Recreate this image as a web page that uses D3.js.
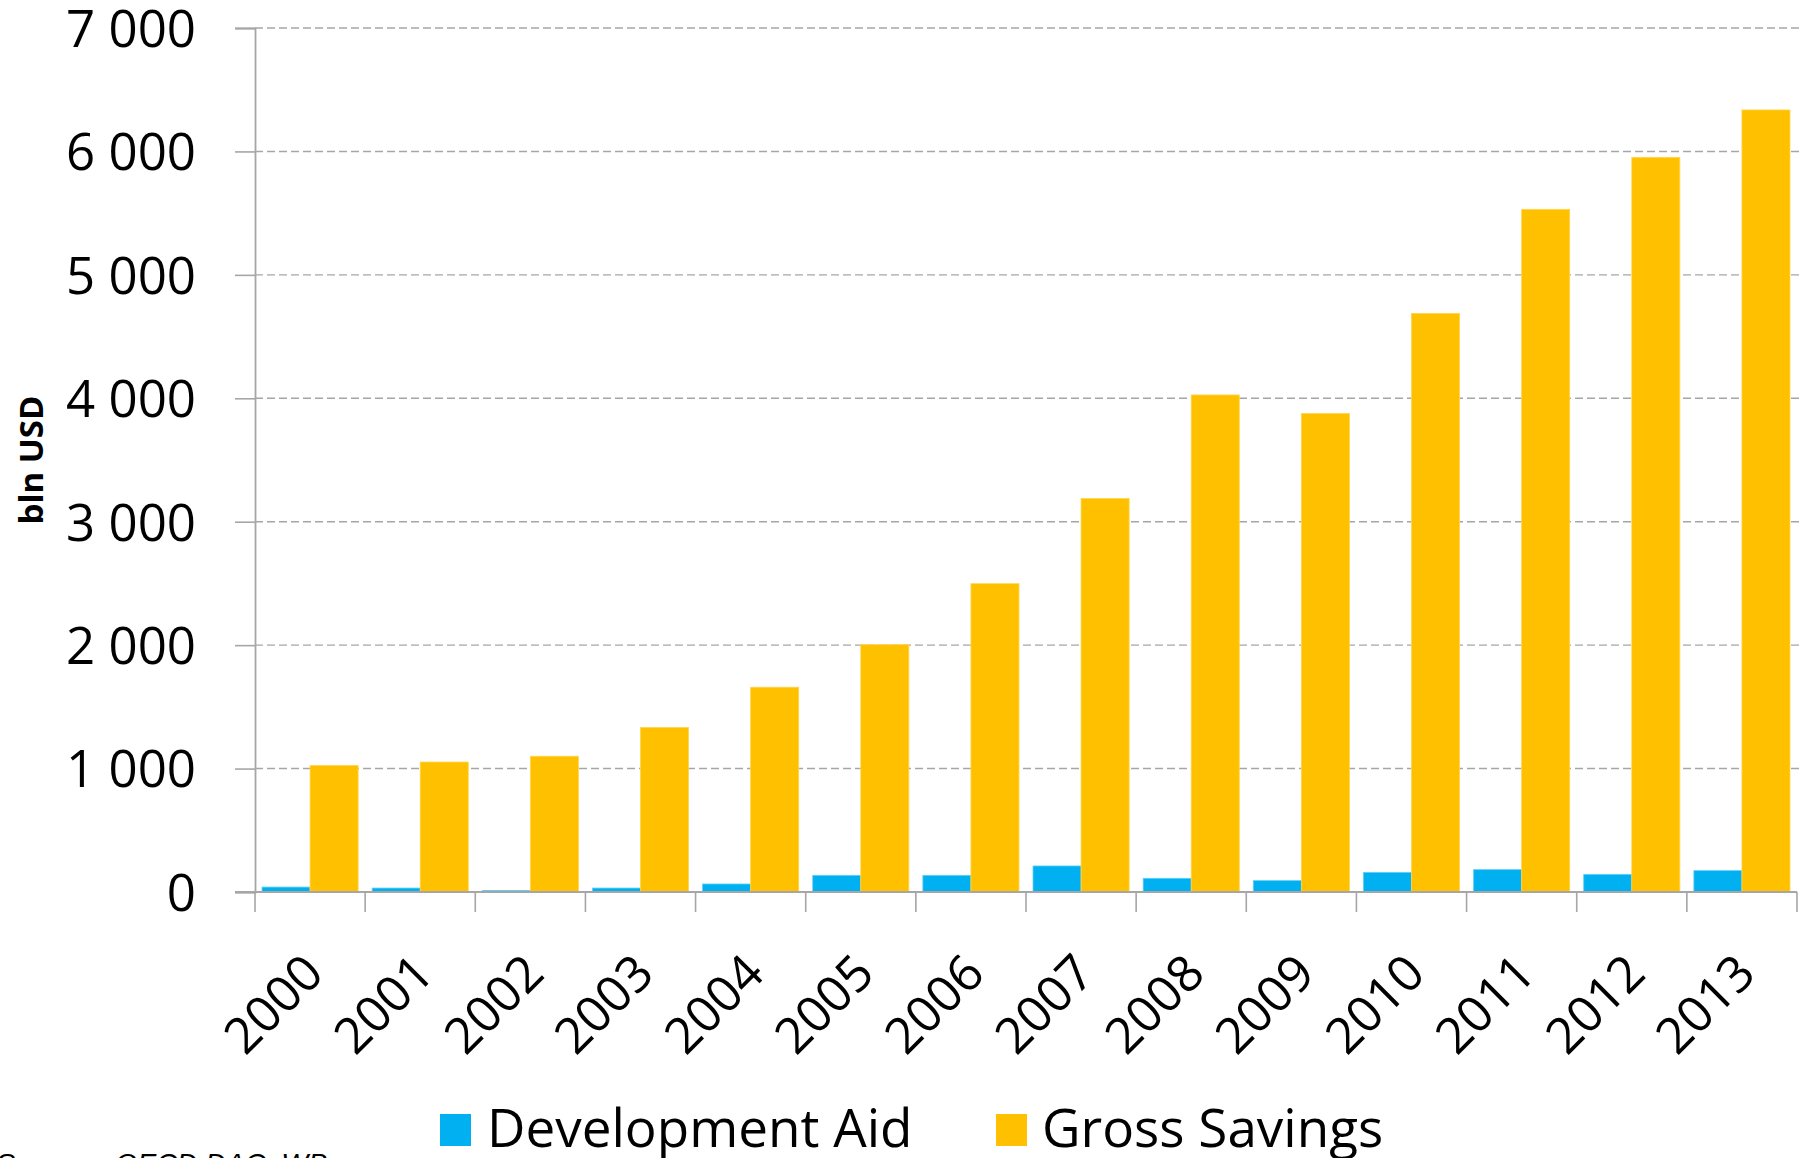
<!DOCTYPE html>
<html>
<head>
<meta charset="utf-8">
<script src="https://cdn.jsdelivr.net/npm/d3@7"></script>
<style>
  html, body { margin: 0; padding: 0; background: #ffffff; }
  svg { display: block; }
</style>
</head>
<body>
<svg id="chart" width="1805" height="1158"></svg>
<script>
// Development aid vs. gross savings, bln USD
const years = ["2000","2001","2002","2003","2004","2005","2006","2007","2008","2009","2010","2011","2012","2013"];
const seriesNames = ["Development Aid", "Gross Savings"];
const developmentAid = [40, 32, 13, 32, 65, 135, 135, 211, 111, 92, 159, 181, 143, 173];
const grossSavings = [1025, 1053, 1100, 1333, 1659, 2004, 2498, 3188, 4027, 3877, 4688, 5531, 5952, 6336];
const yTicks = [0, 1000, 2000, 3000, 4000, 5000, 6000, 7000];
const yTitle = "bln USD";
const sourceLabel = "Source:";
const sourceText = "OECD DAC, WB";

const colors = { "Development Aid": "#00b0f0", "Gross Savings": "#ffc000" };
const strokes = { "Development Aid": "#5fd0f7", "Gross Savings": "#ffd54d" };
const FONT = "'Open Sans', Lato, sans-serif";

const rows = years.map((yr, i) => ({
  year: yr,
  values: [
    { key: seriesNames[0], value: developmentAid[i] },
    { key: seriesNames[1], value: grossSavings[i] }
  ]
}));

const svg = d3.select("#chart");
const plotLeft = 255, plotRight = 1797, plotTop = 28, plotBottom = 892;

const x = d3.scaleBand().domain(years).range([plotLeft, plotRight]).padding(0);
const x1 = d3.scaleBand().domain(seriesNames).range([0, x.bandwidth()])
  .paddingInner(0).paddingOuter(0.146);
const y = d3.scaleLinear().domain([0, 7000]).range([plotBottom, plotTop]);

// dashed horizontal gridlines
svg.append("g")
  .selectAll("line")
  .data(yTicks.filter(d => d > 0))
  .join("line")
  .attr("x1", plotLeft).attr("x2", plotRight + 4)
  .attr("y1", d => y(d)).attr("y2", d => y(d))
  .attr("stroke", "#a6a6a6")
  .attr("stroke-width", 1.4)
  .attr("stroke-dasharray", "8,4");

// y axis with outside ticks
const yAxis = svg.append("g")
  .attr("transform", `translate(${plotLeft},0)`)
  .call(d3.axisLeft(y).tickValues(yTicks).tickSize(20).tickPadding(39)
    .tickFormat(d => d3.format(",")(d).replace(/,/g, " ")));
yAxis.select(".domain").attr("stroke", "#a6a6a6").attr("stroke-width", 1.8);
yAxis.selectAll(".tick line").attr("stroke", "#a6a6a6").attr("stroke-width", 1.6);
yAxis.selectAll(".tick text")
  .attr("font-family", FONT)
  .attr("font-size", 51)
  .attr("dy", "0.36em")
  .attr("fill", "#000");

// bars
const groups = svg.append("g")
  .selectAll("g")
  .data(rows)
  .join("g")
  .attr("transform", d => `translate(${x(d.year)},0)`);

groups.selectAll("rect")
  .data(d => d.values)
  .join("rect")
  .attr("x", d => x1(d.key))
  .attr("width", x1.bandwidth())
  .attr("y", d => y(d.value))
  .attr("height", d => y(0) - y(d.value))
  .attr("fill", d => colors[d.key])
  .attr("stroke", d => strokes[d.key])
  .attr("stroke-width", 0.8);

// x axis: category boundaries as ticks
const xAxis = svg.append("g").attr("transform", `translate(0,${plotBottom})`);
xAxis.append("line")
  .attr("x1", plotLeft - 20).attr("x2", plotRight)
  .attr("y1", 0).attr("y2", 0)
  .attr("stroke", "#a6a6a6").attr("stroke-width", 1.8);
const bounds = years.map(d => x(d)).concat([plotRight]);
xAxis.selectAll("line.bound")
  .data(bounds)
  .join("line")
  .attr("class", "bound")
  .attr("x1", d => d).attr("x2", d => d)
  .attr("y1", 0).attr("y2", 20)
  .attr("stroke", "#a6a6a6").attr("stroke-width", 1.6);

// rotated year labels
svg.append("g")
  .selectAll("text")
  .data(years)
  .join("text")
  .attr("transform", d => `translate(${x(d) + x.bandwidth() / 2 + 16},${plotBottom + 84}) rotate(-45)`)
  .attr("text-anchor", "end")
  .attr("font-family", FONT)
  .attr("font-size", 50)
  .attr("fill", "#000")
  .text(d => d);

// y axis title
svg.append("text")
  .attr("transform", `translate(43,460) rotate(-90)`)
  .attr("text-anchor", "middle")
  .attr("font-family", FONT)
  .attr("font-weight", "bold")
  .attr("font-size", 33)
  .attr("fill", "#000")
  .text(yTitle);

// legend
const legendItems = [
  { key: seriesNames[0], sx: 440, tx: 487 },
  { key: seriesNames[1], sx: 996, tx: 1042 }
];
const legend = svg.append("g");
legend.selectAll("rect")
  .data(legendItems)
  .join("rect")
  .attr("x", d => d.sx).attr("y", 1114)
  .attr("width", 31).attr("height", 32)
  .attr("fill", d => colors[d.key]);
legend.selectAll("text")
  .data(legendItems)
  .join("text")
  .attr("x", d => d.tx).attr("y", 1147)
  .attr("font-family", FONT)
  .attr("font-size", 53)
  .attr("fill", "#000")
  .text(d => d.key);

// source note
const src = svg.append("text")
  .attr("y", 1173)
  .attr("font-family", "'Liberation Sans', Arial, sans-serif")
  .attr("font-style", "italic")
  .attr("font-size", 28.5)
  .attr("fill", "#000");
src.append("tspan").attr("x", -4).text(sourceLabel);
src.append("tspan").attr("x", 115).text(sourceText);
</script>
</body>
</html>
